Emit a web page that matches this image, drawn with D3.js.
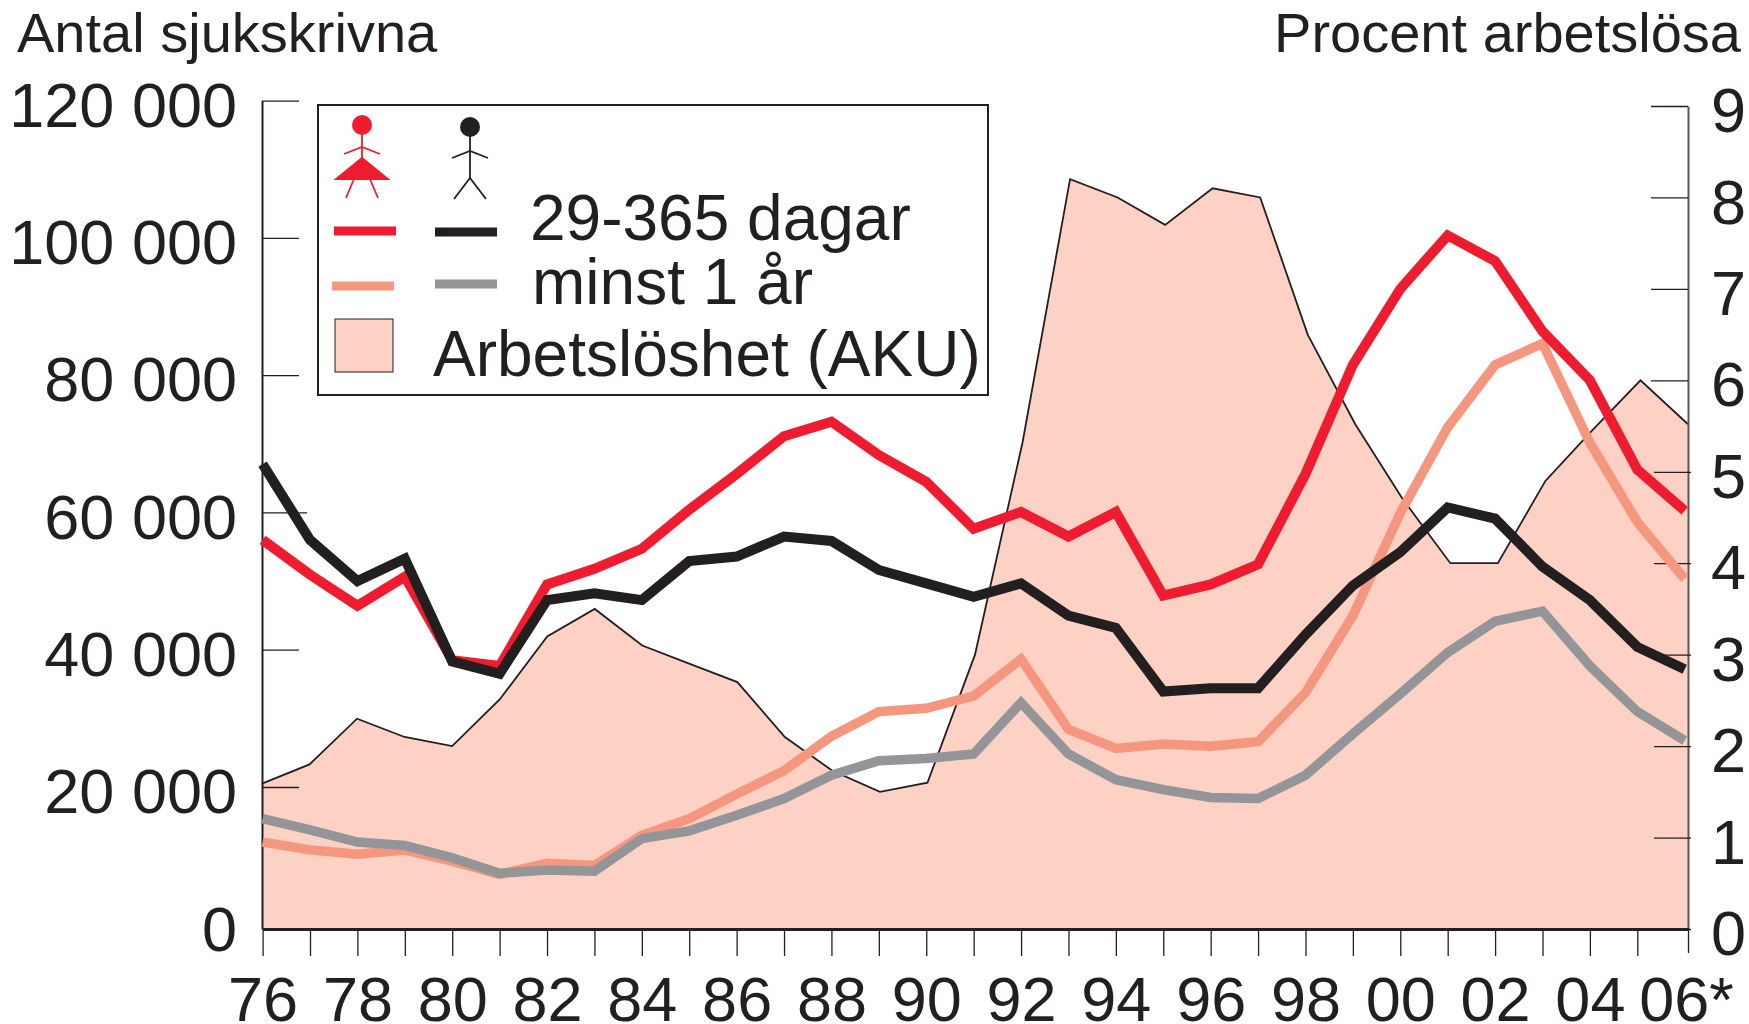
<!DOCTYPE html>
<html><head><meta charset="utf-8">
<script src="https://cdn.jsdelivr.net/npm/d3@7/dist/d3.min.js"></script>
<style>html,body{margin:0;padding:0;background:#fff;overflow:hidden}
text{font-family:"Liberation Sans",Arial,sans-serif;fill:#231f20}</style></head>
<body><svg id="c" width="1749" height="1024"></svg>
<script>
const years=d3.range(1976,2007);
const womenShort=[56000,50950,46410,50650,38480,37640,49510,51780,54710,60400,65600,71110,73230,68360,64460,57630,60070,56490,60070,47880,49510,52430,65600,81510,92570,100360,96630,86390,79250,66240,60240];
const menShort=[67050,56000,50000,53250,38290,36500,47230,48210,47230,52920,53570,56490,55850,51620,49670,47720,49670,44960,43170,33910,34400,34400,42190,49350,54220,60720,59100,52100,47230,40410,37150];
const womenLong=[12240,11140,10520,11140,9570,7690,9250,8940,13180,15540,19000,22370,27400,30990,31470,33260,38620,28380,25620,26270,25950,26590,33740,44960,59910,72410,81510,84610,70150,58610,50320];
const menLong=[15540,13970,12240,11770,10040,7840,8320,8150,12720,13820,16010,18370,21720,23830,24160,24810,32280,24810,21070,19620,18520,18370,21720,27730,33580,39600,44140,45610,37640,30990,26750];
const unemployment=[1.59,1.8,2.3,2.1,2.0,2.51,3.2,3.5,3.1,2.9,2.7,2.1,1.73,1.5,1.6,3.0,5.32,8.2,8.0,7.7,8.1,8.0,6.5,5.52,4.7,4.0,4.0,4.9,5.46,6.0,5.52];
const leftTicks=[0,20000,40000,60000,80000,100000,120000];
const rightTicks=[0,1,2,3,4,5,6,7,8,9];
const xLabelYears=d3.range(1976,2007,2);
const xLabel=y=>y===2006?"06*":String(y%100).padStart(2,"0");
const leftLabel=v=>v===0?"0":d3.format(",")(v).replace(/,/g," ");
const legendRows=["29-365 dagar","minst 1 år","Arbetslöshet (AKU)"];
const RED="#ee1c2e",BLACK="#231f20",SALMON="#f5977f",GREY="#939598",AREA="#fdd1c3";

const L=262,R=1688,T=106,B=929;
const svg=d3.select("#c");
const xArea=d3.scaleLinear().domain([1976,2006]).range([L,R]);
const xLine=d3.scaleLinear().domain([1976,2005]).range([262.6,1637.3]);
const xTick=d3.scaleLinear().domain([1976,2005,2006]).range([262.6,1637.3,R]);
const yL=d3.scaleLinear().domain([0,20000,120000]).range([B,787,100.6]);
const yR=d3.scaleLinear().domain([0,9]).range([B,T]);

svg.append("path").datum(unemployment).attr("fill",AREA)
 .attr("d",d3.area().x((d,i)=>xArea(years[i])).y0(B).y1(d=>yR(d)));
svg.append("path").datum(unemployment).attr("fill","none").attr("stroke",BLACK).attr("stroke-width",1.8)
 .attr("d",d3.line().x((d,i)=>xArea(years[i])).y(d=>yR(d)));

const FS=63;
const gl=svg.append("g").attr("transform",`translate(${L},0)`)
 .call(d3.axisLeft(yL).tickValues(leftTicks).tickFormat(leftLabel).tickSizeInner(-37).tickSizeOuter(0).tickPadding(25));
const gr=svg.append("g").attr("transform",`translate(${R},0)`)
 .call(d3.axisRight(yR).tickValues(rightTicks).tickFormat(d3.format("d")).tickSizeInner(-37).tickSizeOuter(0).tickPadding(23));
const gb=svg.append("g").attr("transform",`translate(0,${B})`)
 .call(d3.axisBottom(xTick).tickValues(years).tickFormat(y=>xLabelYears.includes(y)?xLabel(y):"").tickSizeInner(27).tickSizeOuter(0));
[gl,gr,gb].forEach(g=>{
 g.selectAll("text").attr("font-size",FS).attr("fill",BLACK).style("font-family",'"Liberation Sans"');
 g.selectAll("line").attr("stroke",BLACK).attr("stroke-width",1.3);
 g.select(".domain").attr("stroke",BLACK).attr("stroke-width",1.6);
});
gl.selectAll("text").attr("dy",null).attr("y",d=>(d===0?-1:3.5)+0.35*FS);
gr.selectAll("text").attr("dy",null).attr("y",3.5+0.35*FS);
gb.selectAll("text").attr("dy",null).attr("y",92);
gb.selectAll(".tick").filter(d=>d===2006).select("text").attr("x",-2);
gb.selectAll(".tick").filter(d=>d===2006).select("line").attr("y2",24);
gb.select(".domain").attr("stroke-width",3);
gl.select(".domain").attr("stroke-width",2);
gr.select(".domain").attr("stroke","#58595b").attr("stroke-width",2);
gl.selectAll(".tick").filter(d=>d===0).select("line").remove();
gl.selectAll(".tick").filter(d=>d===60000).select("line").attr("x2",45);
gr.selectAll(".tick").filter(d=>d<=5).select("line").attr("x1",-34).attr("x2",3);

const line=d3.line().x((d,i)=>xLine(years[i])).y(d=>yL(d));
[[womenLong,SALMON,9.5],[menLong,GREY,9.5],[womenShort,RED,10],[menShort,BLACK,10]].forEach(([s,c,w])=>{
 svg.append("path").datum(s).attr("fill","none").attr("stroke",c).attr("stroke-width",w)
  .attr("stroke-linejoin","miter").attr("d",line);
});

svg.append("text").attr("x",17).attr("y",52).attr("font-size",56).text("Antal sjukskrivna");
svg.append("text").attr("x",1741).attr("y",52).attr("font-size",56).attr("text-anchor","end").text("Procent arbetslösa");

// legend
const lg=svg.append("g");
lg.append("rect").attr("x",318).attr("y",105).attr("width",670).attr("height",290)
 .attr("fill","#fff").attr("stroke",BLACK).attr("stroke-width",2);
[[334,396,231,RED],[435,497,232,BLACK],[332,394,286,SALMON],[435,497,284,GREY]].forEach(([a,b,y,c])=>{
 lg.append("line").attr("x1",a).attr("x2",b).attr("y1",y).attr("y2",y).attr("stroke",c).attr("stroke-width",9);
});
lg.append("rect").attr("x",335).attr("y",319).attr("width",58).attr("height",53)
 .attr("fill",AREA).attr("stroke",BLACK).attr("stroke-width",1);
lg.selectAll("text.leg").data(legendRows).join("text").attr("class","leg")
 .attr("x",(d,i)=>[530,532,433][i]).attr("y",(d,i)=>[240,304,376][i]).attr("font-size",64).text(d=>d);
function figure(cx,top,c,skirt){
 const g=lg.append("g").attr("stroke",c).attr("fill","none").attr("stroke-width",1.8);
 g.append("ellipse").attr("cx",cx).attr("cy",top+9).attr("rx",10).attr("ry",10).attr("fill",c).attr("stroke","none");
 if(skirt){
  g.append("line").attr("x1",cx).attr("x2",cx).attr("y1",top+18).attr("y2",top+44);
  g.append("path").attr("d",`M${cx-18} ${top+38}L${cx} ${top+31}L${cx+18} ${top+38}`);
  g.append("path").attr("d",`M${cx} ${top+42}L${cx+26} ${top+63}H${cx-26}Z`).attr("fill",c).attr("stroke",c);
  g.append("path").attr("d",`M${cx-8} ${top+63}L${cx-16} ${top+82}M${cx+8} ${top+63}L${cx+16} ${top+82}`);
 } else {
  g.append("line").attr("x1",cx).attr("x2",cx).attr("y1",top+18).attr("y2",top+60);
  g.append("path").attr("d",`M${cx-18} ${top+40}L${cx} ${top+33}L${cx+18} ${top+40}`);
  g.append("path").attr("d",`M${cx-16} ${top+81}L${cx} ${top+60}L${cx+16} ${top+81}`);
 }
}
figure(362,116,RED,true);
figure(470,118,BLACK,false);
</script></body></html>
